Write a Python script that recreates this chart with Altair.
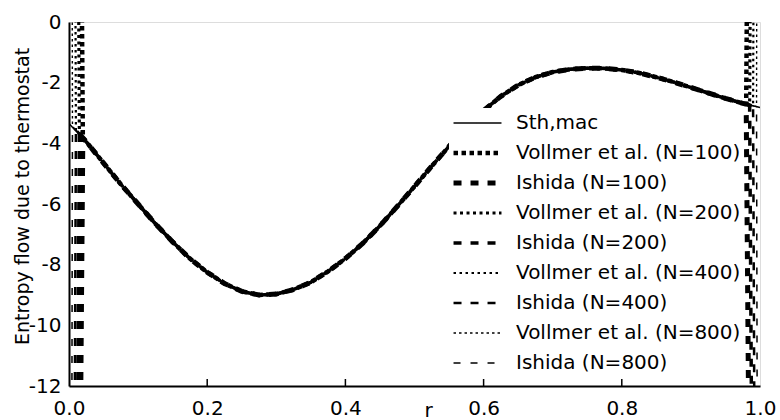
import altair as alt
import pandas as pd

FONT = "DejaVu Sans"

# Sampling positions r and the macroscopic entropy flow Sth,mac(r)
r_grid = [0.000, 0.025, 0.050, 0.075, 0.100, 0.125, 0.150, 0.175, 0.200, 0.225,
          0.250, 0.275, 0.300, 0.325, 0.350, 0.375, 0.400, 0.425, 0.450, 0.475,
          0.500, 0.525, 0.550, 0.575, 0.600, 0.625, 0.650, 0.675, 0.700, 0.725,
          0.750, 0.775, 0.800, 0.825, 0.850, 0.875, 0.900, 0.925, 0.950, 0.975,
          1.000]
s_mac = [-3.35, -3.95, -4.65, -5.35, -6.00, -6.65, -7.25, -7.80, -8.25, -8.62,
         -8.88, -9.00, -8.97, -8.82, -8.58, -8.22, -7.80, -7.30, -6.72, -6.08,
         -5.42, -4.75, -4.10, -3.48, -2.92, -2.45, -2.08, -1.82, -1.65, -1.56,
         -1.52, -1.53, -1.58, -1.68, -1.82, -1.98, -2.16, -2.34, -2.52, -2.68,
         -2.82]

# Simulated profiles: system sizes, first/last interior cells and the
# divergent boundary values (clipped by the axis range)
sizes = [100, 200, 400, 800]
left_r = [0.020, 0.015, 0.010, 0.005]
left_v = [-3.82, -3.70, -3.58, -3.45]
right_r = [0.980, 0.985, 0.990, 0.995]
right_v = [-2.71, -2.74, -2.76, -2.79]
vollmer_edge = 60.0
ishida_edge = -60.0

series_names = ["Sth,mac",
                "Vollmer et al. (N=100)", "Ishida (N=100)",
                "Vollmer et al. (N=200)", "Ishida (N=200)",
                "Vollmer et al. (N=400)", "Ishida (N=400)",
                "Vollmer et al. (N=800)", "Ishida (N=800)"]
dash_styles = [[1, 0],
               [4.5, 3.5], [8, 9],
               [3, 3.5], [8, 9],
               [2.5, 3.5], [8, 9],
               [2.5, 3], [7, 10]]
stroke_widths = [1.5, 4.5, 5.0, 3.2, 3.5, 2.2, 2.5, 1.4, 1.5]

x_ticks = [0.0, 0.2, 0.4, 0.6, 0.8, 1.0]
y_ticks = [0, -2, -4, -6, -8, -10, -12]

rows = []
for r, v in zip(r_grid, s_mac):
    rows.append({"series": "Sth,mac", "r": r, "s": v})

for i, n in enumerate(sizes):
    for label, edge in (("Vollmer et al.", vollmer_edge), ("Ishida", ishida_edge)):
        name = f"{label} (N={n})"
        rows.append({"series": name, "r": 0.0, "s": edge})
        rows.append({"series": name, "r": left_r[i], "s": left_v[i]})
        for r, v in zip(r_grid, s_mac):
            if left_r[i] < r < right_r[i]:
                rows.append({"series": name, "r": r, "s": v})
        rows.append({"series": name, "r": right_r[i], "s": right_v[i]})
        rows.append({"series": name, "r": 1.0, "s": edge})

df = pd.DataFrame(rows)

W, H = 691, 364

legend = alt.Legend(
    title=None, orient="none", legendX=380, legendY=86,
    fillColor="white", padding=2,
    labelFont=FONT, labelFontSize=20, labelColor="black", labelLimit=400,
    labelOffset=12, symbolType="stroke", symbolSize=2300,
    symbolStrokeColor="black", clipHeight=26, rowPadding=4,
)

x_scale = alt.Scale(domain=[0, 1], nice=False)
y_scale = alt.Scale(domain=[-12, 0], nice=False)

lines = alt.Chart(df).mark_line(clip=True, color="black", strokeCap="butt").encode(
    x=alt.X("r:Q", scale=x_scale,
            axis=alt.Axis(values=x_ticks, format=".1f", tickSize=0, labelPadding=12,
                          labelFlush=False,
                          labelFont=FONT, labelFontSize=20, labelColor="black",
                          domainColor="black", domainWidth=2, grid=False,
                          title="r", titleFont=FONT, titleFontSize=20,
                          titleFontWeight="normal", titleColor="black",
                          titleX=359, titleY=24, titleBaseline="middle",
                          titleAlign="center")),
    y=alt.Y("s:Q", scale=y_scale,
            axis=alt.Axis(values=y_ticks, labelExpr="toString(datum.value)",
                          tickSize=0, labelPadding=8, labelFlush=False,
                          labelFont=FONT,
                          labelFontSize=20, labelColor="black",
                          domainColor="black", domainWidth=2, grid=False,
                          title="Entropy flow due to thermostat", titleFont=FONT,
                          titleFontSize=19, titleFontWeight="normal",
                          titleColor="black", titleAngle=-90, titleX=-47,
                          titleY=174, titleAlign="center",
                          titleBaseline="middle")),
    detail="series:N",
    strokeDash=alt.StrokeDash("series:N",
                              scale=alt.Scale(domain=series_names, range=dash_styles),
                              legend=legend),
    strokeWidth=alt.StrokeWidth("series:N",
                                scale=alt.Scale(type="ordinal", domain=series_names,
                                                range=stroke_widths),
                                legend=legend),
)

# inward tick marks on the r axis
ticks = alt.Chart(pd.DataFrame({"t": x_ticks[1:-1]})).mark_rule(
    color="black", strokeWidth=1.5
).encode(x=alt.X("t:Q", scale=x_scale), y=alt.value(H), y2=alt.value(H - 7))

chart = alt.layer(ticks, lines).properties(
    width=W, height=H,
    autosize=alt.AutoSizeParams(type="none"),
    padding={"left": 69, "top": 22, "right": 20, "bottom": 34},
).configure_view(stroke=None).configure(background="white")

chart.save("out.html", embed_options={"renderer": "svg", "actions": False})
